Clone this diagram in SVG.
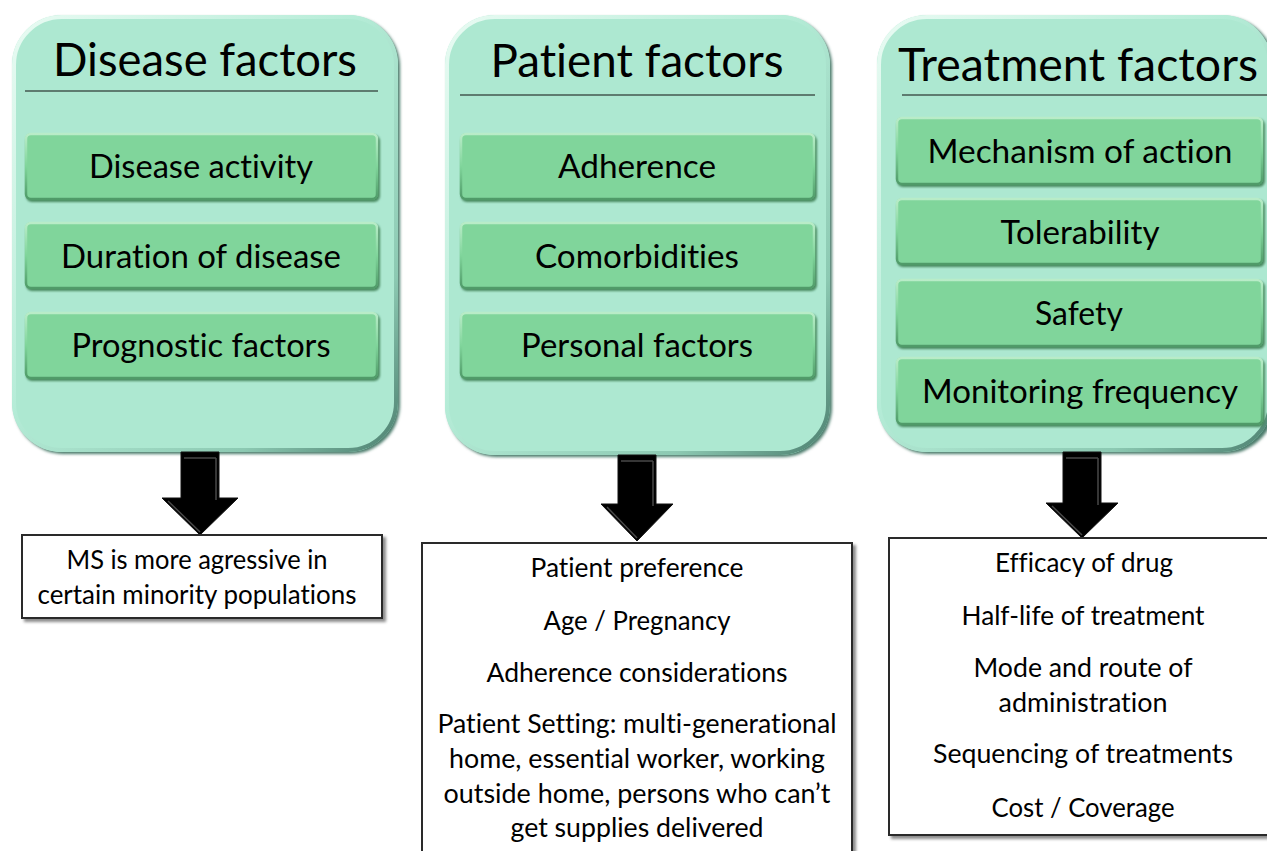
<svg xmlns="http://www.w3.org/2000/svg" width="1267" height="851" viewBox="0 0 1267 851">
<defs>
<style>
text{font-family:Lato,"Open Sans","Liberation Sans",sans-serif;fill:#000;text-anchor:middle;font-variant-ligatures:none}
.title{font-size:46px}
.item{font-size:33.5px}
.note{font-size:26.5px}
.panel{fill:#ade8d1}
.bevel{fill:none;stroke:url(#bevelG);stroke-width:4}
.pshadow{fill:#4a7a6a;filter:url(#blur2)}
.ibox{fill:#80d59b}
.ishadow{fill:#4a8a60;filter:url(#blur1)}
.ibevel{fill:none;stroke:url(#ibevelG);stroke-width:2.5}
.rule{stroke:#111;stroke-width:1.2}
.out{fill:#fff;stroke:#2a2a2a;stroke-width:2;filter:url(#shadow)}
.arrow{fill:#000;stroke:#111;stroke-width:1}
.ahl{fill:none;stroke:#5a5a5a;stroke-width:1.5;opacity:.8}
</style>
<linearGradient id="bevelG" x1="0" y1="0" x2="1" y2="1">
<stop offset="0" stop-color="#e9fbf3"/>
<stop offset="0.45" stop-color="#b5ecd7"/>
<stop offset="0.8" stop-color="#8cc9b2"/>
<stop offset="1" stop-color="#4d8070"/>
</linearGradient>
<linearGradient id="ibevelG" x1="0" y1="0" x2="0" y2="1">
<stop offset="0" stop-color="#b9ecc8"/>
<stop offset="0.5" stop-color="#80d59b"/>
<stop offset="1" stop-color="#4f9a68"/>
</linearGradient>
<filter id="blur2" x="-5%" y="-5%" width="110%" height="110%"><feGaussianBlur stdDeviation="1.8"/></filter>
<filter id="blur1" x="-5%" y="-10%" width="110%" height="120%"><feGaussianBlur stdDeviation="1"/></filter>
<filter id="shadow" x="-5%" y="-5%" width="115%" height="115%"><feDropShadow dx="3" dy="3" stdDeviation="1.5" flood-color="#000" flood-opacity="0.45"/></filter>
</defs>
<rect width="1267" height="851" fill="#fff"/>

<g id="disease-factors">
<rect class="pshadow" x="14" y="17" width="386" height="437" rx="50"/>
<rect class="panel" x="12" y="15" width="386" height="437" rx="50"/>
<rect class="bevel" x="14" y="17" width="382" height="433" rx="48"/>
<text class="title" x="205" y="76" textLength="304" lengthAdjust="spacingAndGlyphs">Disease factors</text>
<line class="rule" x1="25" y1="91" x2="378" y2="91"/>
<g id="disease-activity">
<rect class="ishadow" x="26" y="135" width="354" height="67" rx="6"/>
<rect class="ibox" x="25" y="133" width="353" height="67" rx="6"/>
<rect class="ibevel" x="26" y="134" width="351" height="65" rx="5"/>
<text class="item" x="201" y="178" textLength="224" lengthAdjust="spacingAndGlyphs">Disease activity</text>
</g>
<g id="duration-of-disease">
<rect class="ishadow" x="26" y="224" width="354" height="67" rx="6"/>
<rect class="ibox" x="25" y="222" width="353" height="67" rx="6"/>
<rect class="ibevel" x="26" y="223" width="351" height="65" rx="5"/>
<text class="item" x="201" y="268" textLength="280" lengthAdjust="spacingAndGlyphs">Duration of disease</text>
</g>
<g id="prognostic-factors">
<rect class="ishadow" x="26" y="314" width="354" height="67" rx="6"/>
<rect class="ibox" x="25" y="312" width="353" height="67" rx="6"/>
<rect class="ibevel" x="26" y="313" width="351" height="65" rx="5"/>
<text class="item" x="201" y="357" textLength="259" lengthAdjust="spacingAndGlyphs">Prognostic factors</text>
</g>
</g>

<g id="patient-factors">
<rect class="pshadow" x="447" y="17" width="385" height="440" rx="50"/>
<rect class="panel" x="445" y="15" width="385" height="440" rx="50"/>
<rect class="bevel" x="447" y="17" width="381" height="436" rx="48"/>
<text class="title" x="637" y="77" textLength="293" lengthAdjust="spacingAndGlyphs">Patient factors</text>
<line class="rule" x1="460" y1="95" x2="815" y2="95"/>
<g id="adherence">
<rect class="ishadow" x="461" y="135" width="356" height="67" rx="6"/>
<rect class="ibox" x="460" y="133" width="355" height="67" rx="6"/>
<rect class="ibevel" x="461" y="134" width="353" height="65" rx="5"/>
<text class="item" x="637" y="178" textLength="158" lengthAdjust="spacingAndGlyphs">Adherence</text>
</g>
<g id="comorbidities">
<rect class="ishadow" x="461" y="224" width="356" height="67" rx="6"/>
<rect class="ibox" x="460" y="222" width="355" height="67" rx="6"/>
<rect class="ibevel" x="461" y="223" width="353" height="65" rx="5"/>
<text class="item" x="637" y="268" textLength="204" lengthAdjust="spacingAndGlyphs">Comorbidities</text>
</g>
<g id="personal-factors">
<rect class="ishadow" x="461" y="314" width="356" height="67" rx="6"/>
<rect class="ibox" x="460" y="312" width="355" height="67" rx="6"/>
<rect class="ibevel" x="461" y="313" width="353" height="65" rx="5"/>
<text class="item" x="637" y="357" textLength="232" lengthAdjust="spacingAndGlyphs">Personal factors</text>
</g>
</g>

<g id="treatment-factors">
<rect class="pshadow" x="879" y="17" width="396" height="437" rx="50"/>
<rect class="panel" x="877" y="15" width="395" height="437" rx="50"/>
<rect class="bevel" x="879" y="17" width="391" height="433" rx="48"/>
<text class="title" x="1078" y="81" textLength="360" lengthAdjust="spacingAndGlyphs">Treatment factors</text>
<line class="rule" x1="902" y1="95" x2="1267" y2="95"/>
<g id="mechanism-of-action">
<rect class="ishadow" x="897" y="119" width="368" height="68" rx="6"/>
<rect class="ibox" x="896" y="117" width="367" height="68" rx="6"/>
<rect class="ibevel" x="897" y="118" width="365" height="66" rx="5"/>
<text class="item" x="1080" y="163" textLength="305" lengthAdjust="spacingAndGlyphs">Mechanism of action</text>
</g>
<g id="tolerability">
<rect class="ishadow" x="897" y="200" width="368" height="67" rx="6"/>
<rect class="ibox" x="896" y="198" width="367" height="67" rx="6"/>
<rect class="ibevel" x="897" y="199" width="365" height="65" rx="5"/>
<text class="item" x="1080" y="244" textLength="159" lengthAdjust="spacingAndGlyphs">Tolerability</text>
</g>
<g id="safety">
<rect class="ishadow" x="897" y="281" width="368" height="68" rx="6"/>
<rect class="ibox" x="896" y="279" width="367" height="68" rx="6"/>
<rect class="ibevel" x="897" y="280" width="365" height="66" rx="5"/>
<text class="item" x="1079" y="325" textLength="88" lengthAdjust="spacingAndGlyphs">Safety</text>
</g>
<g id="monitoring-frequency">
<rect class="ishadow" x="897" y="359" width="368" height="68" rx="6"/>
<rect class="ibox" x="896" y="357" width="367" height="68" rx="6"/>
<rect class="ibevel" x="897" y="358" width="365" height="66" rx="5"/>
<text class="item" x="1080" y="403" textLength="316" lengthAdjust="spacingAndGlyphs">Monitoring frequency</text>
</g>
</g>

<g id="connectors">
<path class="arrow" d="M181,452 H219 V498 H238 L200,535 L162,498 H181 Z"/>
<path class="ahl" d="M184,458 H216 M216,458 V500 M168,501 L200,532"/>
<path class="arrow" d="M618,455 H656 V504 H673 L637,541 L601,504 H618 Z"/>
<path class="ahl" d="M621,461 H653 M653,461 V506 M607,507 L637,538"/>
<path class="arrow" d="M1063,452 H1101 V503 H1118 L1082,538 L1046,503 H1063 Z"/>
<path class="ahl" d="M1066,458 H1098 M1098,458 V505 M1052,506 L1082,535"/>
</g>

<g id="disease-outcome">
<rect class="out" x="22" y="535" width="360" height="83"/>
<text class="note" x="197" y="569" textLength="261" lengthAdjust="spacingAndGlyphs">MS is more agressive in</text>
<text class="note" x="197" y="604" textLength="319" lengthAdjust="spacingAndGlyphs">certain minority populations</text>
</g>

<g id="patient-outcome">
<rect class="out" x="422" y="543" width="430" height="320"/>
<text class="note" x="637" y="577" textLength="213" lengthAdjust="spacingAndGlyphs">Patient preference</text>
<text class="note" x="637" y="630" textLength="187" lengthAdjust="spacingAndGlyphs">Age / Pregnancy</text>
<text class="note" x="637" y="682" textLength="301" lengthAdjust="spacingAndGlyphs">Adherence considerations</text>
<text class="note" x="637" y="733" textLength="399" lengthAdjust="spacingAndGlyphs">Patient Setting: multi-generational</text>
<text class="note" x="637" y="768" textLength="376" lengthAdjust="spacingAndGlyphs">home, essential worker, working</text>
<text class="note" x="637" y="803" textLength="387" lengthAdjust="spacingAndGlyphs">outside home, persons who can’t</text>
<text class="note" x="637" y="837" textLength="253" lengthAdjust="spacingAndGlyphs">get supplies delivered</text>
</g>

<g id="treatment-outcome">
<rect class="out" x="889" y="538" width="390" height="297"/>
<text class="note" x="1084" y="572" textLength="178" lengthAdjust="spacingAndGlyphs">Efficacy of drug</text>
<text class="note" x="1083" y="625" textLength="243" lengthAdjust="spacingAndGlyphs">Half-life of treatment</text>
<text class="note" x="1083" y="677" textLength="219" lengthAdjust="spacingAndGlyphs">Mode and route of</text>
<text class="note" x="1083" y="712" textLength="169" lengthAdjust="spacingAndGlyphs">administration</text>
<text class="note" x="1083" y="763" textLength="300" lengthAdjust="spacingAndGlyphs">Sequencing of treatments</text>
<text class="note" x="1083" y="817" textLength="183" lengthAdjust="spacingAndGlyphs">Cost / Coverage</text>
</g>
</svg>
